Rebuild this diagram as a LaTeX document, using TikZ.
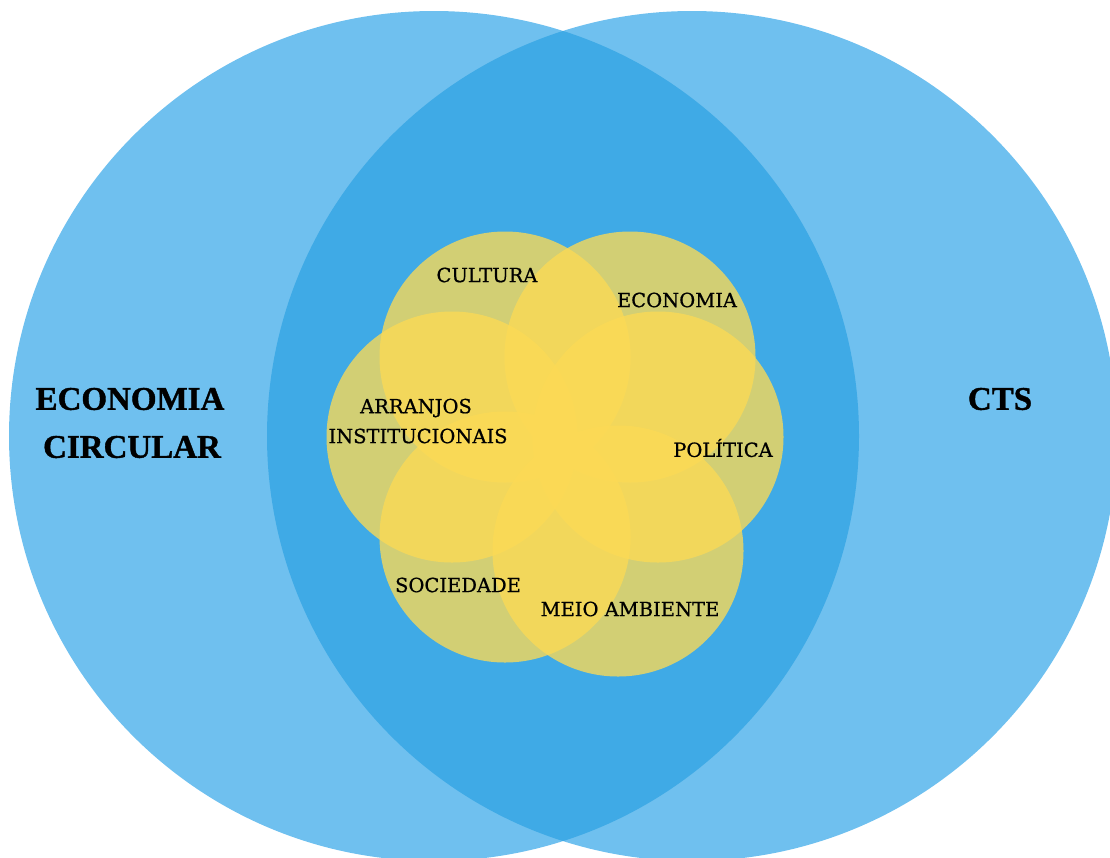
\documentclass[tikz,border=0pt]{standalone}
\usepackage{fontspec}
\setmainfont{Liberation Serif}
\newfontfamily\labelfont[FakeBold=0.7]{DejaVu Serif}
\newfontfamily\titlefont[FakeBold=1.2]{Liberation Serif}
\definecolor{bluelight}{RGB}{111,192,239}
\definecolor{bluedark}{RGB}{63,170,230}
\definecolor{yell}{RGB}{252,218,85}
\tikzset{
  bigtitle/.style={font=\titlefont\bfseries\fontsize{33}{40}\selectfont, text=black, align=center, inner sep=0pt},
  petal/.style={font=\labelfont\fontsize{19.5}{28}\selectfont, text=black, align=center, inner sep=0pt},
  yfill/.style={fill=yell, fill opacity=0.78}
}
\begin{document}
\begin{tikzpicture}[x=1pt,y=-1pt]
\useasboundingbox (0,0) rectangle (1110,857);
\begin{scope}
\clip (0,0) rectangle (1110,857);
% big circles
\fill[bluelight] (434,436) circle (425);
\fill[bluelight] (692,436) circle (425);
\begin{scope}
\clip (434,436) circle (425);
\fill[bluedark] (692,436) circle (425);
\end{scope}
% yellow circles
\fill[yfill] (505,357) circle (125.5);
\fill[yfill] (630,357) circle (125.5);
\fill[yfill] (452,437) circle (125.5);
\fill[yfill] (658,437) circle (125.5);
\fill[yfill] (505,537) circle (125.5);
\fill[yfill] (618,551) circle (125.5);
\end{scope}
% titles
\node[bigtitle] (ec1) at (130,399) {ECONOMIA};
\node[bigtitle] (ec2) at (132,447) {CIRCULAR};
\node[bigtitle] (cts) at (1000,399) {CTS};
% petal labels
\node[petal] (cult) at (487,275) {CULTURA};
\node[petal] (econ) at (677,300) {ECONOMIA};
\node[petal] (arr1) at (416,408) {ARRANJOS};
\node[petal] (arr2) at (418,436) {INSTITUCIONAIS};
\node[petal] (pol) at (723,448) {POLÍTICA};
\node[petal] (soc) at (458,585) {SOCIEDADE};
\node[petal] (meio) at (630,609) {MEIO AMBIENTE};
\end{tikzpicture}
\end{document}
